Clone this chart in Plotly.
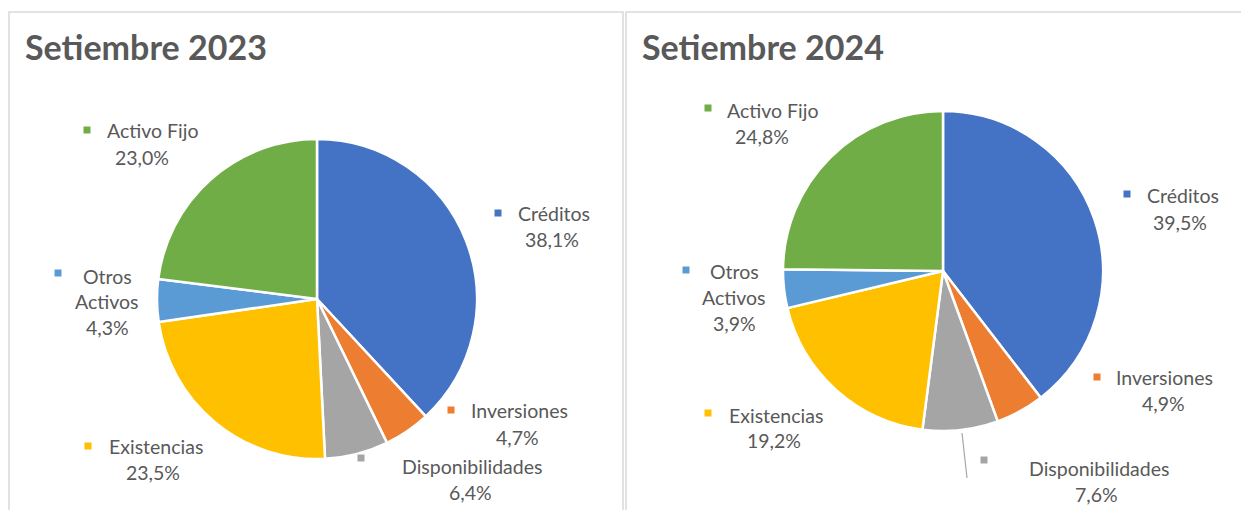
import plotly.graph_objects as go

W, H = 1241, 510

categories = ["Créditos", "Inversiones", "Disponibilidades", "Existencias", "Otros Activos", "Activo Fijo"]
values_2023 = [38.1, 4.7, 6.4, 23.5, 4.3, 23.0]
values_2024 = [39.5, 4.9, 7.6, 19.2, 3.9, 24.8]
titles = ["Setiembre 2023", "Setiembre 2024"]
colors = ["#4472C4", "#ED7D31", "#A5A5A5", "#FFC000", "#5B9BD5", "#70AD47"]

TXT = "#595959"
FONT = "Lato"
LFS = 19.5


def px(x):
    return x / W


def py(y):
    return 1 - y / H


# pie placement (pixel boxes)
pies = [
    dict(vals=values_2023, cx=317, cy=299, r=160),
    dict(vals=values_2024, cx=943, cy=271, r=160),
]

# label layout: marker (x,y), name lines [(x, y, anchor)], pct (x, y)
label_layout = [
    {  # 2023
        "Créditos": dict(m=(498, 213), lines=[(516, 213, "left")], pct=(552, 239)),
        "Inversiones": dict(m=(451, 410), lines=[(469, 410, "left")], pct=(517, 437)),
        "Disponibilidades": dict(m=(361, 458), lines=[(400, 466, "left")], pct=(470, 492)),
        "Existencias": dict(m=(88, 446), lines=[(107, 446, "left")], pct=(153, 472)),
        "Otros Activos": dict(m=(58, 273), lines=[(107, 276, "center"), (107, 301, "center")], pct=(107, 327)),
        "Activo Fijo": dict(m=(87, 130), lines=[(105, 130, "left")], pct=(142, 157)),
    },
    {  # 2024
        "Créditos": dict(m=(1127, 194), lines=[(1145, 195, "left")], pct=(1180, 222)),
        "Inversiones": dict(m=(1097, 377), lines=[(1114, 377, "left")], pct=(1163, 403)),
        "Disponibilidades": dict(m=(984, 460), lines=[(1027, 468, "left")], pct=(1096, 494)),
        "Existencias": dict(m=(708, 413), lines=[(727, 415, "left")], pct=(774, 440)),
        "Otros Activos": dict(m=(686, 270), lines=[(734, 271, "center"), (734, 297, "center")], pct=(734, 323)),
        "Activo Fijo": dict(m=(708, 108), lines=[(725, 110, "left")], pct=(762, 137)),
    },
]

fig = go.Figure()
for p in pies:
    fig.add_trace(go.Pie(
        labels=categories, values=p["vals"], sort=False, direction="clockwise", rotation=0,
        marker=dict(colors=colors, line=dict(color="white", width=2.5)),
        textinfo="none", hoverinfo="label+percent", showlegend=False,
        domain=dict(x=[px(p["cx"] - p["r"]), px(p["cx"] + p["r"])],
                    y=[py(p["cy"] + p["r"]), py(p["cy"] - p["r"])]),
    ))

shapes = []
annotations = []
# panel borders
for x0, x1 in [(9, 623), (626, 1250)]:
    shapes.append(dict(type="rect", xref="paper", yref="paper", x0=px(x0), x1=px(x1),
                       y0=py(520), y1=py(12), line=dict(color="#D9D9D9", width=1.5),
                       fillcolor="rgba(0,0,0,0)", layer="below"))
# leader line for Disponibilidades 2024
shapes.append(dict(type="line", xref="paper", yref="paper", x0=px(962), y0=py(433), x1=px(967), y1=py(478),
                   line=dict(color="#A6A6A6", width=1.2)))

# titles
for t, x in zip(titles, [23, 640]):
    annotations.append(dict(text=f"<b>{t}</b>", x=px(x), y=py(46), xref="paper", yref="paper",
                            xanchor="left", yanchor="middle", showarrow=False,
                            font=dict(family=FONT, size=34, color=TXT)))

for i, p in enumerate(pies):
    for cat, val, col in zip(categories, p["vals"], colors):
        lay = label_layout[i][cat]
        mx, my = lay["m"]
        shapes.append(dict(type="rect", xref="paper", yref="paper", x0=px(mx - 3.5), x1=px(mx + 3.5),
                           y0=py(my + 3.5), y1=py(my - 3.5), line=dict(width=0), fillcolor=col))
        words = cat.split(" ") if len(lay["lines"]) > 1 else [cat]
        for w, (lx, ly, anc) in zip(words, lay["lines"]):
            annotations.append(dict(text=w, x=px(lx), y=py(ly), xref="paper", yref="paper",
                                    xanchor=anc, yanchor="middle", showarrow=False,
                                    font=dict(family=FONT, size=LFS, color=TXT)))
        qx, qy = lay["pct"]
        annotations.append(dict(text=f"{val:.1f}%".replace(".", ","), x=px(qx), y=py(qy),
                                xref="paper", yref="paper", xanchor="center", yanchor="middle",
                                showarrow=False, font=dict(family=FONT, size=LFS, color=TXT)))

fig.update_layout(width=W, height=H, margin=dict(l=0, r=0, t=0, b=0),
                  paper_bgcolor="white", plot_bgcolor="white",
                  shapes=shapes, annotations=annotations)

fig.write_html("out.html", config={"displayModeBar": False},
               post_script="document.body.style.margin='0';document.body.style.overflow='hidden';")
